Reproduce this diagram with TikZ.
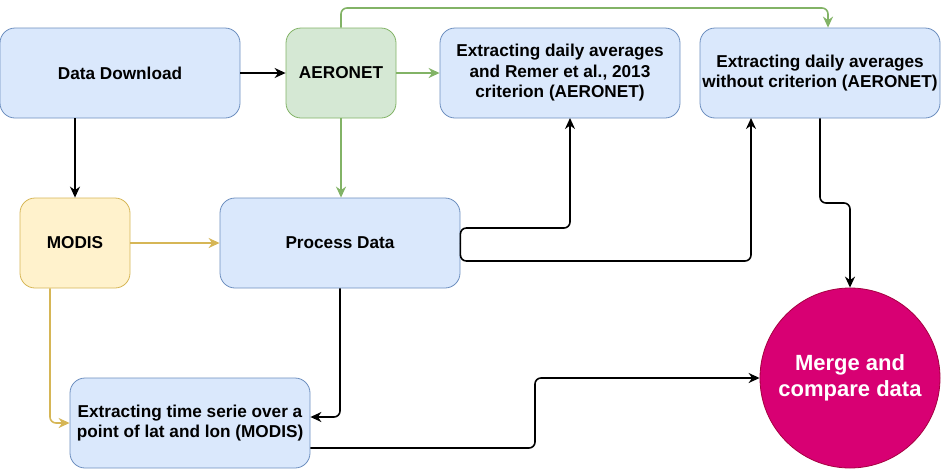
\documentclass[tikz,border=0pt]{standalone}
\usepackage{fontspec}
\setmainfont{Liberation Sans}
\usetikzlibrary{arrows.meta,calc}
\definecolor{bfill}{HTML}{DAE8FC}
\definecolor{bline}{HTML}{6C8EBF}
\definecolor{gfill}{HTML}{D5E8D4}
\definecolor{gline}{HTML}{82B366}
\definecolor{yfill}{HTML}{FFF2CC}
\definecolor{yline}{HTML}{D6B656}
\definecolor{mfill}{HTML}{D80073}
\definecolor{mline}{HTML}{A50040}
\tikzset{
  x=1pt,y=-1pt,
  box/.style={rectangle, rounded corners=15pt, line width=0.8pt, draw=bline, fill=bfill,
    minimum width=240pt, minimum height=90pt, inner sep=0pt, align=center,
    font=\fontsize{17.2}{20.5}\selectfont\bfseries},
  bluebox/.style={box},
  greenbox/.style={box, draw=gline, fill=gfill, minimum width=110pt},
  yellowbox/.style={box, draw=yline, fill=yfill, minimum width=110pt},
  mergecircle/.style={circle, draw=mline, fill=mfill, line width=0.8pt, minimum size=180pt,
    inner sep=0pt, align=center, text=white, font=\fontsize{22}{26}\selectfont\bfseries},
  conn/.style={line width=1.6pt, rounded corners=6pt, -{Stealth[length=11pt,width=10pt,inset=3.5pt]}},
  blk/.style={conn, draw=black},
  grn/.style={conn, draw=gline},
  ylw/.style={conn, draw=yline},
}
\begin{document}
\begin{tikzpicture}
\useasboundingbox (0,0) rectangle (941,469);
\node[bluebox] (dd) at (120,73) {Data Download};
\node[greenbox] (aer) at (341,73) {AERONET};
\node[bluebox] (b1) at (560,73) {Extracting daily averages\\and Remer et al., 2013\\criterion (AERONET)};
\node[bluebox] (b2) at (820,73) {Extracting daily averages\\without criterion (AERONET)};
\node[yellowbox] (modis) at (75,243) {MODIS};
\node[bluebox] (pd) at (340,243) {Process Data};
\node[bluebox] (ts) at (190,423) {Extracting time serie over a\\point of lat and lon (MODIS)};
\node[mergecircle] (mc) at (850,378) {Merge and\\compare data};

\coordinate (gtop) at (828,8);
\coordinate (b1in) at (570,118);
\coordinate (b2in) at (751,118);
\coordinate (b2mid) at (850,203);
\coordinate (tsmid) at (535,378);

\draw[blk] (dd.east) -- (aer.west);
\draw[blk] (modis.north |- dd.south) -- (modis.north);
\draw[grn] (aer.east) -- (b1.west);
\draw[grn] (aer.south) -- (aer.south |- pd.north);
\draw[grn] (aer.north) |- (gtop) -- (gtop |- b2.north);
\draw[ylw] (modis.east) -- (pd.west);
\draw[ylw] ($(modis.south)+(-25,0)$) |- (ts.west);
\draw[blk] (pd.south) |- ($(ts.east)+(0,-6)$);
\draw[blk] (pd.east) -- ++(0,-15) -| (b1in);
\draw[blk] (pd.east) -- ++(0,18) -| (b2in);
\draw[blk] (b2.south) |- (b2mid) -- (mc.north);
\draw[blk] ($(ts.east)+(0,25)$) -| (tsmid) -- (mc.west);
\end{tikzpicture}
\end{document}
